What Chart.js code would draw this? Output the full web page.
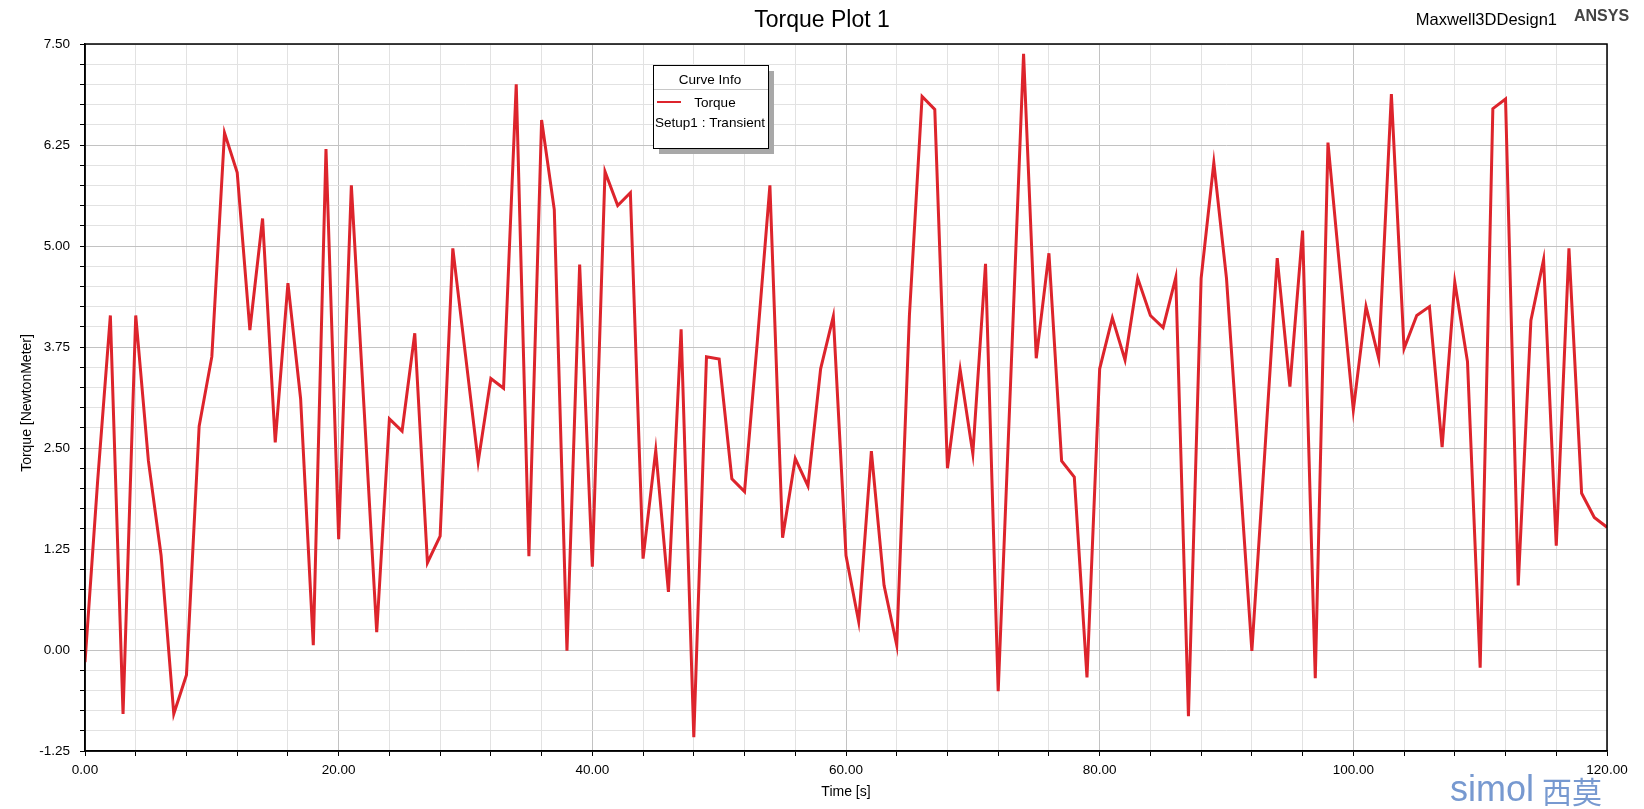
<!DOCTYPE html>
<html>
<head>
<meta charset="utf-8">
<title>Torque Plot 1</title>
<script src="https://cdn.jsdelivr.net/npm/chart.js@4.4.1/dist/chart.umd.min.js"></script>
<style>
  html, body { margin: 0; padding: 0; background: #fff; }
  #wrap { width: 1644px; height: 809px; }
</style>
</head>
<body>
<div id="wrap"><canvas id="torqueChart" width="1644" height="809"></canvas></div>
<script>
// time samples [s]
const timeValues = [
  0, 1, 2, 3, 4, 5, 6, 7, 8, 9, 10, 11, 12, 13, 14, 15, 16, 17, 18, 19, 20,
  21, 22, 23, 24, 25, 26, 27, 28, 29, 30, 31, 32, 33, 34, 35, 36, 37, 38, 39, 40,
  41, 42, 43, 44, 45, 46, 47, 48, 49, 50, 51, 52, 53, 54, 55, 56, 57, 58, 59, 60,
  61, 62, 63, 64, 65, 66, 67, 68, 69, 70, 71, 72, 73, 74, 75, 76, 77, 78, 79, 80,
  81, 82, 83, 84, 85, 86, 87, 88, 89, 90, 91, 92, 93, 94, 95, 96, 97, 98, 99, 100,
  101, 102, 103, 104, 105, 106, 107, 108, 109, 110, 111, 112, 113, 114, 115, 116, 117, 118, 119, 120
];
// torque [NewtonMeter]
const torqueValues = [
  -0.15, 2.10, 4.14, -0.79, 4.14, 2.34, 1.17, -0.79, -0.31, 2.77, 3.63,
  6.40, 5.91, 3.96, 5.34, 2.57, 4.54, 3.11, 0.06, 6.20, 1.37,
  5.75, 3.00, 0.22, 2.86, 2.71, 3.92, 1.08, 1.41, 4.97, 3.65,
  2.33, 3.36, 3.24, 7.00, 1.16, 6.56, 5.45, -0.01, 4.77, 1.03,
  5.92, 5.50, 5.66, 1.13, 2.47, 0.72, 3.97, -1.08, 3.63, 3.60,
  2.12, 1.96, 3.80, 5.75, 1.39, 2.37, 2.03, 3.48, 4.13, 1.17,
  0.35, 2.46, 0.80, 0.06, 4.14, 6.85, 6.69, 2.25, 3.47, 2.43,
  4.78, -0.51, 3.40, 7.38, 3.61, 4.91, 2.34, 2.14, -0.34, 3.48,
  4.11, 3.59, 4.60, 4.14, 3.99, 4.61, -0.82, 4.60, 6.03, 4.60,
  2.30, -0.01, 2.40, 4.85, 3.26, 5.19, -0.35, 6.28, 4.60, 2.97,
  4.25, 3.61, 6.88, 3.73, 4.14, 4.25, 2.51, 4.55, 3.57, -0.22,
  6.70, 6.82, 0.80, 4.08, 4.83, 1.29, 4.97, 1.94, 1.64, 1.52
];
const xTickLabels = ['0.00', '20.00', '40.00', '60.00', '80.00', '100.00', '120.00'];
const yTickLabels = ['-1.25', '0.00', '1.25', '2.50', '3.75', '5.00', '6.25', '7.50'];

const FONT = "'Liberation Sans', Arial, sans-serif";
Chart.defaults.font.family = FONT;
Chart.defaults.color = '#000';

function isMajor(v, step) {
  return Math.abs(v / step - Math.round(v / step)) < 1e-6;
}
function labelFor(list, v) {
  const hit = list.find(l => Math.abs(parseFloat(l) - v) < 1e-6);
  return hit === undefined ? '' : hit;
}

// black box round the plot area
const framePlugin = {
  id: 'frame',
  afterDatasetsDraw(chart) {
    const { ctx, chartArea: a } = chart;
    ctx.save();
    ctx.strokeStyle = '#000';
    ctx.lineWidth = 1.5;
    ctx.strokeRect(a.left, a.top, a.right - a.left, a.bottom - a.top);
    ctx.restore();
  }
};

// title, y title, design name, ANSYS mark and watermark
const headerPlugin = {
  id: 'header',
  afterDraw(chart) {
    const ctx = chart.ctx;
    ctx.save();
    ctx.textBaseline = 'middle';
    ctx.fillStyle = '#000';
    ctx.font = '23px ' + FONT;
    ctx.textAlign = 'center';
    ctx.fillText('Torque Plot 1', chart.width / 2, 21);

    ctx.save();
    ctx.font = '14px ' + FONT;
    ctx.translate(27, 403);
    ctx.rotate(-Math.PI / 2);
    ctx.fillText('Torque [NewtonMeter]', 0, 0);
    ctx.restore();

    ctx.font = '16.5px ' + FONT;
    ctx.textAlign = 'right';
    ctx.fillText('Maxwell3DDesign1', 1557, 20);

    ctx.font = 'bold 16px ' + FONT;
    ctx.fillStyle = '#444';
    ctx.textAlign = 'left';
    ctx.fillText('ANSYS', 1574, 17);

    ctx.fillStyle = 'rgba(95, 135, 200, 0.85)';
    ctx.font = '36px ' + FONT;
    ctx.textBaseline = 'alphabetic';
    ctx.fillText('simol', 1450, 801);
    ctx.font = "30px 'Noto Sans CJK SC', sans-serif";
    ctx.fillText('西莫', 1542, 803);
    ctx.restore();
  }
};

// "Curve Info" box
const curveInfoPlugin = {
  id: 'curveInfo',
  afterDraw(chart) {
    const ctx = chart.ctx;
    const ds = chart.data.datasets[0];
    const x = 653, y = 65, w = 115, h = 83;
    ctx.save();
    ctx.fillStyle = '#a8a8a8';
    ctx.fillRect(x + 6, y + 6, w, h);
    ctx.fillStyle = '#fff';
    ctx.fillRect(x, y, w, h);
    ctx.strokeStyle = '#000';
    ctx.lineWidth = 1;
    ctx.strokeRect(x + 0.5, y + 0.5, w, h);
    ctx.strokeStyle = '#c8c8c8';
    ctx.beginPath();
    ctx.moveTo(x + 1, y + 24.5);
    ctx.lineTo(x + w, y + 24.5);
    ctx.stroke();

    ctx.fillStyle = '#000';
    ctx.font = '13.5px ' + FONT;
    ctx.textAlign = 'center';
    ctx.textBaseline = 'middle';
    ctx.fillText('Curve Info', x + 57, y + 15);
    ctx.fillText(ds.label, x + 62, y + 38);
    ctx.fillText('Setup1 : Transient', x + 57, y + 58);

    ctx.strokeStyle = ds.borderColor;
    ctx.lineWidth = 2;
    ctx.beginPath();
    ctx.moveTo(x + 4, y + 37);
    ctx.lineTo(x + 28, y + 37);
    ctx.stroke();
    ctx.restore();
  }
};

const ctx = document.getElementById('torqueChart');
new Chart(ctx, {
  type: 'line',
  data: {
    datasets: [{
      label: 'Torque',
      data: timeValues.map((t, i) => ({ x: t, y: torqueValues[i] })),
      borderColor: 'rgb(221, 36, 44)',
      borderWidth: 3,
      pointRadius: 0,
      tension: 0,
      fill: false
    }]
  },
  options: {
    responsive: false,
    animation: false,
    layout: { padding: { top: 44, right: 37, left: 0, bottom: 0 } },
    plugins: {
      legend: { display: false },
      tooltip: { enabled: false }
    },
    scales: {
      x: {
        type: 'linear',
        min: 0,
        max: 120,
        ticks: {
          stepSize: 4,
          autoSkip: false,
          maxRotation: 0,
          padding: 6,
          font: { size: 13.5 },
          callback: v => labelFor(xTickLabels, v)
        },
        grid: {
          color: c => isMajor(c.tick.value, 20) ? '#c2c2c2' : '#e2e2e2',
          tickColor: '#000',
          tickLength: 5,
          tickWidth: 1
        },
        border: { color: '#000', width: 1.5 },
        title: {
          display: true,
          text: 'Time [s]',
          font: { size: 14 },
          padding: { top: 0, bottom: 8 }
        },
        afterFit: s => { s.height = 58; }
      },
      y: {
        min: -1.25,
        max: 7.5,
        ticks: {
          stepSize: 0.25,
          autoSkip: false,
          padding: 10,
          font: { size: 13.5 },
          callback: v => labelFor(yTickLabels, v)
        },
        grid: {
          color: c => isMajor(c.tick.value, 1.25) ? '#c2c2c2' : '#e2e2e2',
          tickColor: '#000',
          tickLength: 5,
          tickWidth: 1
        },
        border: { color: '#000', width: 1.5 },
        afterFit: s => { s.width = 85; }
      }
    }
  },
  plugins: [framePlugin, headerPlugin, curveInfoPlugin]
});
</script>
</body>
</html>
